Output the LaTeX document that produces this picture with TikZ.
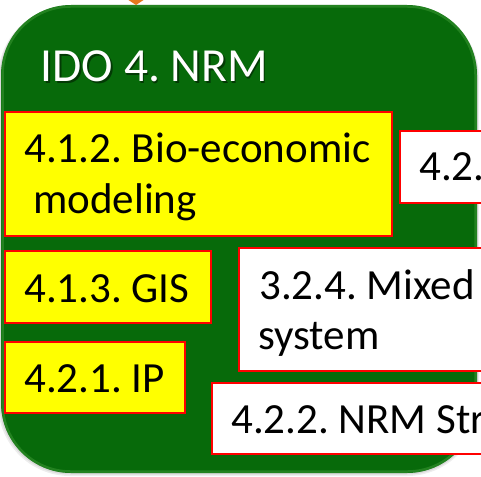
\documentclass[tikz,border=0pt]{standalone}
\usepackage{fontspec}
\setmainfont{Carlito}
\frenchspacing
\usetikzlibrary{arrows.meta}
\definecolor{idogreen}{RGB}{7,106,10}
\definecolor{idobevel}{RGB}{70,160,60}
\definecolor{linkorange}{RGB}{230,120,30}
\definecolor{boxred}{RGB}{255,0,0}
\definecolor{boxyellow}{RGB}{255,255,0}
\tikzset{
  idobox/.style={fill=idogreen, rounded corners=70pt, inner sep=0pt, outer sep=0pt,
    anchor=north west, minimum width=476pt, minimum height=468pt},
  outcomebox/.style={draw=boxred, line width=1.8pt, fill=boxyellow, inner sep=0pt,
    outer sep=0pt, anchor=north west},
  linkbox/.style={outcomebox, fill=white},
  boxtext/.style={inner sep=0pt, anchor=base west, text=black,
    font=\fontsize{43}{52}\selectfont},
  titletext/.style={inner sep=0pt, anchor=base west, text=white,
    font=\fontsize{47.5}{57}\selectfont},
  linkarrow/.style={linkorange, line width=8pt,
    -{Triangle[width=27pt,length=9pt]}},
}
\begin{document}
\begin{tikzpicture}[x=1pt,y=-1pt]
  \useasboundingbox (0,0) rectangle (481,476);
  \clip (0,0) rectangle (481,476);

  % soft shadow around the outcome panel
  \fill[black, opacity=.07, rounded corners=72pt] (-2,6) rectangle (479,476);
  \fill[black, opacity=.08, rounded corners=71pt] (-0.5,6) rectangle (478,474.5);

  % IDO 4 panel
  \node[idobox] (ido) at (1,5) {};
  \draw[idobevel, line width=2.5pt, opacity=.45, rounded corners=68pt]
    (2.5,6.5) rectangle (475.5,471.5);

  % incoming link from above
  \coordinate (feed) at (136,-40);
  \draw[linkarrow] (feed) -- (feed |- ido.north);

  % panel title with its shadow
  \node[titletext, text=black, opacity=.45] (titleshade) at (42,83.5) {IDO 4. NRM};
  \node[titletext] (title) at (40.5,82) {IDO 4. NRM};

  % outputs inside the panel
  \node[outcomebox, minimum width=387pt, minimum height=124pt] (b412) at (5,112) {};
  \node[boxtext] (t412a) at (24,162) {4.1.2. Bio-economic};
  \node[boxtext] (t412b) at (33,213) {modeling};

  \node[linkbox, minimum width=140pt, minimum height=72pt] (b42) at (400,131) {};
  \node[boxtext] (t42) at (419,180) {4.2.};

  \node[outcomebox, minimum width=206pt, minimum height=72pt] (b413) at (5,251) {};
  \node[boxtext] (t413) at (24,302) {4.1.3. GIS};

  \node[linkbox, minimum width=300pt, minimum height=123pt] (b324) at (239,248) {};
  \node[boxtext] (t324a) at (259,299) {3.2.4. Mixed};
  \node[boxtext] (t324b) at (258,349) {system};

  \node[outcomebox, minimum width=180pt, minimum height=71pt] (b421) at (5,342) {};
  \node[boxtext] (t421) at (24,392) {4.2.1. IP};

  \node[linkbox, minimum width=330pt, minimum height=71pt] (b422) at (212,383) {};
  \node[boxtext] (t422) at (231,433) {4.2.2. NRM Str};
\end{tikzpicture}
\end{document}
